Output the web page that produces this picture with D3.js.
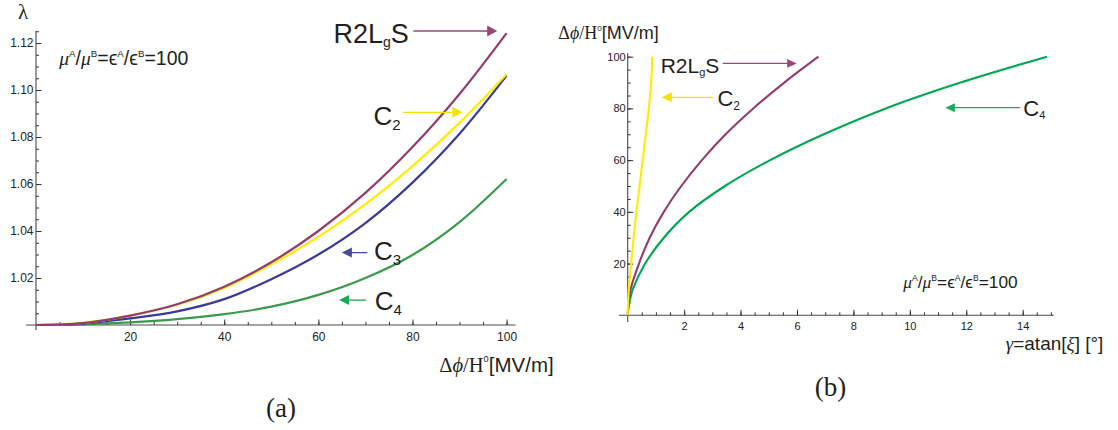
<!DOCTYPE html>
<html><head><meta charset="utf-8">
<script src="https://cdn.jsdelivr.net/npm/d3@7"></script>
<style>body{margin:0;background:#fff}svg{display:block}</style>
</head><body>
<script>
// ---- Panel (a): lambda versus applied field ----
const fieldA = [0, 10, 20, 30, 40, 50, 60, 70, 80, 90, 100];
const lambdaR2LgS = [1.0000, 1.0008, 1.0040, 1.0088, 1.0163, 1.0267, 1.0400, 1.0562, 1.0757, 1.0983, 1.1242];
const lambdaC2    = [1.0000, 1.0009, 1.0040, 1.0086, 1.0158, 1.0258, 1.0375, 1.0514, 1.0676, 1.0860, 1.1067];
const lambdaC3    = [1.0000, 1.0006, 1.0028, 1.0058, 1.0110, 1.0195, 1.0300, 1.0434, 1.0606, 1.0814, 1.1061];
const lambdaC4    = [1.0000, 1.0003, 1.0011, 1.0025, 1.0046, 1.0078, 1.0128, 1.0200, 1.0298, 1.0438, 1.0621];

// ---- Panel (b): applied field versus tilt angle gamma ----
const fieldB = [0, 5, 10, 20, 30, 40, 50, 60, 70, 80, 90, 100];
const gammaR2LgS = [0, 0.03, 0.10, 0.40, 0.78, 1.28, 1.90, 2.63, 3.47, 4.45, 5.55, 6.76];
const gammaC2    = [0, 0.01, 0.04, 0.12, 0.21, 0.31, 0.42, 0.53, 0.64, 0.75, 0.83, 0.87];
const gammaC4    = [0, 0.06, 0.18, 0.62, 1.28, 2.18, 3.45, 5.05, 6.95, 9.15, 11.80, 14.86];

// ---- Tick values ----
const ticksAX = [20, 40, 60, 80, 100];
const ticksAY = [1.02, 1.04, 1.06, 1.08, 1.10, 1.12];
const ticksBX = [2, 4, 6, 8, 10, 12, 14];
const ticksBY = [20, 40, 60, 80, 100];
const minorAX = d3.range(5, 101, 5);
const minorAY = d3.range(1.005, 1.1255, 0.005);
const minorBX = d3.range(0.5, 15.01, 0.5);
const minorBY = d3.range(5, 101, 5);

const colors = {
  r2lgs: "#933c6e", c2: "#ffec00", c3: "#3a3a98", c4a: "#3b9a4c", c4b: "#00a651",
  arrowR2LgS: "#9b4676", arrowC2: "#f2e200", arrowC3: "#4a4aa0", arrowC4: "#1caa5a"
};
const sans = "'Liberation Sans', Arial, sans-serif";
const serif = "'Liberation Serif', 'Times New Roman', serif";

const svg = d3.select("body").append("svg").attr("width", 1118).attr("height", 430)
  .style("background", "#fff");

// scales
const xA = d3.scaleLinear().domain([0, 100]).range([36, 506.6]);
const yA = d3.scaleLinear().domain([1, 1.12]).range([325, 43]);
const xB = d3.scaleLinear().domain([0, 14]).range([627.7, 1022.7]);
const yB = d3.scaleLinear().domain([0, 100]).range([315.3, 56.7]);

function drawAxes(xs, ys, xExt, yExt, xt, xm, yt, ym, xfmt, yfmt, fs, padX, padY) {
  const g = svg.append("g");
  // axis lines crossing at the origin
  g.append("line").attr("x1", xs(xExt[0])).attr("x2", xs(xExt[1]))
    .attr("y1", ys.range()[0]).attr("y2", ys.range()[0])
    .attr("stroke", "#4a4a4a").attr("stroke-width", 1.1);
  g.append("line").attr("y1", ys(yExt[0])).attr("y2", ys(yExt[1]))
    .attr("x1", xs.range()[0]).attr("x2", xs.range()[0])
    .attr("stroke", "#4a4a4a").attr("stroke-width", 1.1);

  const gx = g.append("g").attr("transform", `translate(0,${ys.range()[0]})`);
  gx.append("g").call(d3.axisBottom(xs).tickValues(xm).tickSize(-3).tickFormat(""));
  gx.append("g").call(d3.axisBottom(xs).tickValues(xt).tickSize(-5.5).tickPadding(padX).tickFormat(xfmt));
  const gy = g.append("g").attr("transform", `translate(${xs.range()[0]},0)`);
  gy.append("g").call(d3.axisLeft(ys).tickValues(ym).tickSize(-3).tickFormat(""));
  gy.append("g").call(d3.axisLeft(ys).tickValues(yt).tickSize(-5.5).tickPadding(padY).tickFormat(yfmt));

  g.selectAll(".domain").remove();
  g.selectAll(".tick line").attr("stroke", "#333").attr("stroke-width", 1);
  g.selectAll(".tick text").attr("font-family", sans).attr("font-size", fs).attr("fill", "#222");
}

drawAxes(xA, yA, [-2.1, 101.9], [0.9979, 1.1251], ticksAX, minorAX, ticksAY, minorAY,
  d3.format("d"), d3.format(".2f"), 12, 7.5, 2.5);
drawAxes(xB, yB, [-0.31, 15.1], [-2.6, 101.3], ticksBX, minorBX, ticksBY, minorBY,
  d3.format("d"), d3.format("d"), 11, 6.5, 2);

// curves of panel (a)
const lineA = d3.line().x(d => xA(d[0])).y(d => yA(d[1])).curve(d3.curveCatmullRom.alpha(0.5));
[[lambdaC4, colors.c4a], [lambdaC3, colors.c3], [lambdaC2, colors.c2], [lambdaR2LgS, colors.r2lgs]]
  .forEach(([vals, c]) => {
    svg.append("path").datum(fieldA.map((f, i) => [f, vals[i]]))
      .attr("d", lineA).attr("fill", "none").attr("stroke", c).attr("stroke-width", 2.2);
  });

// curves of panel (b)
const lineB = d3.line().x(d => xB(d[0])).y(d => yB(d[1])).curve(d3.curveCatmullRom.alpha(0.5));
[[gammaC4, colors.c4b], [gammaR2LgS, colors.r2lgs], [gammaC2, colors.c2]]
  .forEach(([vals, c]) => {
    svg.append("path").datum(fieldB.map((f, i) => [vals[i], f]))
      .attr("d", lineB).attr("fill", "none").attr("stroke", c).attr("stroke-width", 2.1);
  });

// arrow with a filled triangular head at (x2, y)
function arrow(x1, x2, y, color, len, half) {
  const dir = Math.sign(x2 - x1);
  svg.append("line").attr("x1", x1).attr("x2", x2 - dir * len * 0.6).attr("y1", y).attr("y2", y)
    .attr("stroke", color).attr("stroke-width", 1.3);
  svg.append("path")
    .attr("d", `M${x2},${y} L${x2 - dir * len},${y - half} L${x2 - dir * len},${y + half} Z`)
    .attr("fill", color);
}

// label with a subscript part
function subLabel(x, y, main, sub, tail, fs, sfs, shift) {
  const t = svg.append("text").attr("x", x).attr("y", y)
    .attr("font-family", sans).attr("font-size", fs).attr("fill", "#231f20");
  t.append("tspan").text(main);
  t.append("tspan").attr("font-size", sfs).attr("dy", shift).text(sub);
  if (tail) t.append("tspan").attr("dy", -shift).text(tail);
}

// annotations of panel (a)
subLabel(xA(63.2), yA(1.1200), "R2L", "g", "S", 27, 14, 4);
arrow(xA(80.2), xA(98.0), yA(1.1251), colors.arrowR2LgS, 10, 5.5);
subLabel(xA(71.7), yA(1.0851), "C", "2", null, 26, 15, 5);
arrow(xA(78.0), xA(90.6), yA(1.0905), colors.arrowC2, 10, 5.5);
subLabel(xA(71.8), yA(1.0277), "C", "3", null, 26, 15, 5);
arrow(xA(70.4), xA(65.0), yA(1.0308), colors.arrowC3, 10, 5);
subLabel(xA(72.0), yA(1.0064), "C", "4", null, 26, 15, 5);
arrow(xA(70.1), xA(64.4), yA(1.0106), colors.arrowC4, 10, 5);

// annotations of panel (b)
subLabel(xB(1.17), yB(93.6), "R2L", "g", "S", 21, 11, 3);
arrow(xB(3.37), xB(5.99), yB(97.4), colors.arrowR2LgS, 9.5, 4.3);
subLabel(xB(3.18), yB(80.9), "C", "2", null, 22, 12, 4);
arrow(xB(3.03), xB(1.21), yB(84.3), colors.arrowC2, 10, 5);
subLabel(xB(14.02), yB(77.1), "C", "4", null, 22, 11, 3);
arrow(xB(13.91), xB(11.26), yB(80.3), colors.arrowC4, 9.5, 4.5);

// material ratio note
function ratioNote(x, y, fs) {
  const t = svg.append("text").attr("x", x).attr("y", y)
    .attr("font-family", sans).attr("font-size", fs).attr("fill", "#231f20");
  const sup = fs * 0.5, up = -fs * 0.42;
  const part = (txt, opts = {}) => {
    const s = t.append("tspan").text(txt);
    if (opts.size) s.attr("font-size", opts.size);
    if (opts.dy) s.attr("dy", opts.dy);
    if (opts.italic) s.attr("font-style", "italic").attr("font-family", serif);
  };
  part("\u03bc", { italic: true });
  part("A", { size: sup, dy: up });
  part("/", { dy: -up });
  part("\u03bc", { italic: true });
  part("B", { size: sup, dy: up });
  part("=\u03f5", { dy: -up });
  part("A", { size: sup, dy: up });
  part("/\u03f5", { dy: -up });
  part("B", { size: sup, dy: up });
  part("=100", { dy: -up });
}
ratioNote(xA(4.95), yA(1.1106), 19.5);
ratioNote(xB(9.77), yB(10.4), 17.3);

// axis titles
function fieldTitle(x, y, fs) {
  const t = svg.append("text").attr("x", x).attr("y", y)
    .attr("font-size", fs).attr("fill", "#231f20").attr("font-family", serif);
  t.append("tspan").text("\u0394");
  t.append("tspan").attr("font-style", "italic").text("\u03d5");
  t.append("tspan").text("/H");
  t.append("tspan").attr("font-family", sans).attr("font-size", fs * 0.45).attr("dy", -fs * 0.45).text("0");
  t.append("tspan").attr("font-family", sans).attr("dy", fs * 0.45).text("[MV/m]");
}
fieldTitle(439.3, 371.7, 20.5);
fieldTitle(558.3, 39, 18);

svg.append("text").attr("x", 18).attr("y", 19).attr("font-family", serif)
  .attr("font-size", 21).attr("fill", "#231f20").text("\u03bb");

const gt = svg.append("text").attr("x", 1005.7).attr("y", 350)
  .attr("font-family", sans).attr("font-size", 19).attr("fill", "#231f20");
gt.append("tspan").attr("font-family", serif).attr("font-style", "italic").text("\u03b3");
gt.append("tspan").text("=atan[");
gt.append("tspan").attr("font-family", serif).attr("font-style", "italic").text("\u03be");
gt.append("tspan").text("] [\u00b0]");

// panel captions
svg.append("text").attr("x", 281).attr("y", 417).attr("text-anchor", "middle")
  .attr("font-family", serif).attr("font-size", 27).attr("fill", "#231f20").text("(a)");
svg.append("text").attr("x", 830.5).attr("y", 396).attr("text-anchor", "middle")
  .attr("font-family", serif).attr("font-size", 27).attr("fill", "#231f20").text("(b)");
</script>
</body></html>
